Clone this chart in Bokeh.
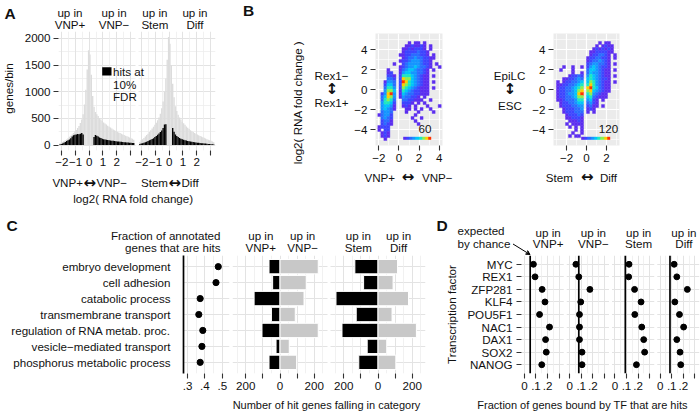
import math
from bokeh.plotting import figure
from bokeh.layouts import row, column
from bokeh.models import (Range1d, FactorRange, LinearAxis, CategoricalAxis, FixedTicker,
                          CategoricalTicker, Grid, Label, Span, BoxAnnotation, ColorBar,
                          LinearColorMapper, Arrow, VeeHead, ColumnDataSource)
from bokeh.transform import transform
from bokeh.embed import file_html
from bokeh.resources import INLINE

MINUS = "\u2212"

# ======================= DATA =======================
# Panel A: histograms of log2 fold change (bins of 0.1 starting at -2.2)
HIST_BIN_START = -2.2
HIST_BIN_WIDTH = 0.1
VNP_ALL = [30, 45, 60, 75, 90, 105, 130, 155, 175, 200,
           225, 255, 285, 320, 360, 415, 480, 580, 760, 1040,
           1420, 1780, 1700, 1320, 920, 720, 620, 580, 545, 510,
           480, 450, 425, 405, 385, 365, 345, 330, 312, 295,
           280, 265, 250, 238, 225, 212, 200, 188, 175, 165,
           155, 142, 130, 118, 100]
VNP_HITS = [10, 20, 30, 45, 60, 75, 90, 105, 130, 160,
            185, 195, 200, 210, 205, 215, 225, 200, 0, 0,
            0, 0, 0, 0, 0, 150, 190, 175, 160, 145,
            132, 120, 112, 105, 100, 96, 92, 88, 84, 80,
            76, 73, 70, 67, 64, 61, 58, 55, 52, 50,
            48, 46, 44, 42, 40]
STEM_ALL = [60, 90, 110, 135, 160, 190, 215, 245, 280, 310,
            345, 380, 420, 465, 520, 590, 690, 820, 1000, 1250,
            1600, 2030, 1900, 1500, 1150, 900, 730, 640, 570, 520,
            480, 440, 410, 380, 350, 325, 300, 280, 262, 245,
            228, 212, 198, 185, 172, 160, 148, 136, 124, 112,
            100, 90, 80, 70, 55]
STEM_HITS = [20, 28, 36, 45, 55, 65, 78, 90, 102, 115,
             130, 150, 170, 195, 220, 245, 275, 320, 385, 390,
             0, 0, 0, 0, 320, 250, 200, 170, 150, 135,
             120, 110, 100, 92, 85, 78, 72, 67, 62, 58,
             54, 50, 46, 43, 40, 37, 34, 31, 28, 25,
             22, 20, 17, 14, 10]
HIST_YTICKS = [0, 500, 1000, 1500, 2000]
FC_TICKS = [-2, -1, 0, 1, 2, 3]
FC_TICK_LABELS = [MINUS + "2", MINUS + "1", "0", "1", "2", ""]

# Panel B: 2-D density (level 1..9 per 0.3 x 0.3 cell; '.' = empty), rows from top (y=4.8) down
HEAT_CELL = 0.3
HEAT_Y_TOP = 4.8
VNP_HEAT_X0 = -2.1
VNP_HEAT_LEFT = [
    ".......", ".......", ".......", ".......", ".......", ".......", ".......",
    ".....1.", ".......", "...1...", "...12..", "...221.", "...332.", "..1443.",
    "..2553.", "..3664.", "..4775.", ".24894.", ".35874.", ".36763.", ".46652.",
    ".45541.", ".45431.", ".3443..", "13442..", ".3432..", ".2331..", ".2321..",
    "1222...", "1.22...", ".121...", ".121...", "..1...."]
VNP_HEAT_RIGHT = [
    "...1.11.1.....", "..1121121.1...", ".11212221.1...", ".122223221....",
    "1122333221.1..", ".12334332211..", "12234443221...", ".2344443221.1.",
    "12344543321..1", "1345543321.1..", "1455443321....", "2666543211.1..",
    "2877543211....", "2986543211.1..", "2876543211....", "2765432111.1..",
    "1654322111....", "1543322111....", "1433221.1.....", ".3322111..1...",
    ".2221.1.1.....", ".121.1...1...1", "..11.1.1..1...", "..1...1....1..",
    ".....1........", "....1..1......", ".....1........", "......1.......",
    "..............", "..............", "..............", "..............",
    ".............."]
STEM_HEAT_X0 = -3.0
STEM_HEAT_LEFT = [
    "..........", "..........", "..........", "..........", "..........",
    "..........", "..........", "..........", "..1..1..1.", ".1...1....",
    ".....1..1.", "....12232.", "..1122343.", "1.1223345.", "112233456.",
    "122334567.", "122334578.", "122344589.", "122334577.", "112333466.",
    ".12233455.", ".12223344.", "..1222334.", "..1222333.", "...122232.",
    "...112221.", "....11121.", "...1.1111.", "....1.1.1.", "......1.1.",
    ".....1..1.", "....1.11..", ".........."]
STEM_HEAT_RIGHT = [
    "....1.11...", "...1.1211..", "..1212121..", ".11222211..", ".1223321.1.",
    "12233221.1.", "12334321...", "23443321.1.", "24543221...", "35543211.1.",
    "35443211...", "46543211.1.", "56543221...", "57643211.1.", "68643211...",
    "89653211...", "78543211...", "6743211....", "5632111....", "4521.1.....",
    "3421.......", "2311.1.....", "121........", "1.1........", "...........",
    "...........", "...........", "...........", "...........", "...........",
    "...........", "...........", "..........."]
VNP_HEAT_MAX_LABEL = "60"
STEM_HEAT_MAX_LABEL = "120"
B_YTICKS = [-4, -2, 0, 2, 4]

# Panel C
GO_TERMS = ["embryo development", "cell adhesion", "catabolic process",
            "transmembrane transport", "regulation of RNA metab. proc.",
            "vesicle" + MINUS + "mediated transport", "phosphorus metabolic process"]
GO_FRACTION = [0.477, 0.464, 0.373, 0.365, 0.388, 0.383, 0.373]
GO_UP_VNP_PLUS = [64, 43, 151, 50, 105, 23, 64]
GO_UP_VNP_MINUS = [223, 153, 140, 89, 223, 54, 97]
GO_UP_STEM = [135, 84, 245, 127, 210, 63, 112]
GO_UP_DIFF = [114, 88, 178, 82, 224, 51, 104]

# Panel D
TFS = ["MYC", "REX1", "ZFP281", "KLF4", "POU5F1", "NAC1", "DAX1", "SOX2", "NANOG"]
TF_VNP_PLUS = [0.078, 0.092, 0.153, 0.178, 0.131, 0.217, 0.183, 0.189, 0.150]
TF_VNP_MINUS = [0.054, 0.079, 0.175, 0.096, 0.085, 0.085, 0.085, 0.107, 0.107]
TF_STEM = [0.122, 0.119, 0.170, 0.226, 0.172, 0.232, 0.249, 0.257, 0.186]
TF_DIFF = [0.121, 0.144, 0.235, 0.127, 0.167, 0.203, 0.144, 0.172, 0.178]
TF_EXPECTED = [0.050, 0.079, 0.090, 0.085]

# ======================= STYLE =======================
FONT = "Liberation Sans"
ARROW_FONT = "DejaVu Sans"
FS = "11.6px"
FS_TITLE = "11px"
ARROW_FS = "15px"
TXT = "#111111"
TICK = "#333333"
GRID_MAJ = "#e3e3e3"
GRID_MIN = "#eeeeee"
HIST_GRAY = "#dcdcdc"
BAR_GRAY = "#c8c8c8"
HEAT_LEVEL_COLORS = ["#5b2df0", "#3d45ff", "#2a6cff", "#1596ff", "#00c6f8",
                     "#1ee8c0", "#8cf050", "#ffcc00", "#ff3300"]
NAMES = ["default", "f1", "f2", "f3"]


def RX(v):
    return int(math.floor(v + 0.5))


RY = RX


def base_fig(L, R, T, B, x_range, y_range, bl=0, br=0, bt=0, bb=0, bg="white"):
    return figure(width=R - L, height=B - T, x_range=x_range, y_range=y_range,
                  x_axis_type=None, y_axis_type=None, toolbar_location=None,
                  output_backend="svg", title=None, frame_align=False,
                  min_border_left=bl, min_border_right=br, min_border_top=bt, min_border_bottom=bb,
                  background_fill_color=bg, border_fill_color="white", outline_line_color=None)


def make_fig(cl, cr, ct, cb, fl, fr, ft, fb, x_range, y_range, bg="white"):
    L, R, T, B = RX(cl), RX(cr), RY(ct), RY(cb)
    FL, FR, FT, FB = RX(fl), RX(fr), RY(ft), RY(fb)
    return base_fig(L, R, T, B, x_range, y_range, FL - L, R - FR, FT - T, B - FB, bg)


def tile(x0, x1, y0, y1, x_range=None):
    """A text-only figure whose frame covers its whole canvas."""
    L, R, T, B = RX(x0), RX(x1), RY(y0), RY(y1)
    p = base_fig(L, R, T, B, x_range if x_range is not None else Range1d(0, 1), Range1d(0, 1))
    return (p, L, B)


def ext_range(main, cl, cr, fl, fr):
    """Range for a tile spanning a figure's whole canvas width, in that figure's data units."""
    L, R, FL, FR = RX(cl), RX(cr), RX(fl), RX(fr)
    ppu = (FR - FL) / (main.end - main.start)
    return Range1d(main.start - (FL - L) / ppu, main.end + (R - FR) / ppu)


def put(t, s, rx=0.0, ry=0.0, xdata=None, align="center", size=FS, bold=False, angle=0.0, font=FONT):
    p, L, B = t
    kw = dict(text=s, text_align=align, text_baseline="middle", text_font=font,
              text_font_size=size, text_color=TXT, angle=angle,
              text_font_style="bold" if bold else "normal",
              y=B - ry, y_units="screen")
    if xdata is not None:
        kw.update(x=xdata, x_units="data")
    else:
        kw.update(x=rx - L, x_units="screen")
    p.add_layout(Label(**kw))


def facet_ranges(lo, hi, n, gap_frac):
    span = hi - lo
    step = span * (1 + gap_frac)
    total = n * span + (n - 1) * span * gap_frac
    return [Range1d(lo - k * step, lo - k * step + total) for k in range(n)], step


def style_axis(ax, tick_len=5, standoff=3):
    ax.axis_line_color = None
    ax.major_tick_out = tick_len
    ax.major_tick_in = 0
    ax.major_tick_line_color = TICK
    ax.major_tick_line_width = 1.1
    ax.minor_tick_line_color = None
    ax.major_label_text_font = FONT
    ax.major_label_text_font_size = FS
    ax.major_label_text_color = TXT
    ax.major_label_standoff = standoff
    ax.axis_label_text_font = FONT
    ax.axis_label_text_font_size = FS
    ax.axis_label_text_font_style = "normal"
    ax.axis_label_text_color = TXT
    return ax


def faceted_xaxis(p, ticks, labels, n, step, tick_len=5, standoff=3):
    pos, lab = [], {}
    for k in range(n):
        for t, l in zip(ticks, labels):
            v = round(t + k * step, 6)
            pos.append(v)
            lab[v] = l
    ax = LinearAxis(ticker=FixedTicker(ticks=pos), major_label_overrides=lab)
    style_axis(ax, tick_len, standoff)
    p.add_layout(ax, "below")


def facet_vgrid(p, major, minor, n):
    for nm in NAMES[:n]:
        p.add_layout(Grid(dimension=0, ticker=FixedTicker(ticks=major, minor_ticks=minor),
                          x_range_name=nm, grid_line_color=GRID_MAJ, grid_line_width=1.0,
                          minor_grid_line_color=GRID_MIN, minor_grid_line_width=0.8))


def facet_gaps(p, lo, hi, n, step):
    for k in range(n - 1):
        p.add_layout(BoxAnnotation(left=hi + k * step, right=lo + (k + 1) * step,
                                   fill_color="white", fill_alpha=1.0, line_alpha=0.0))


# ======================= PANEL A =======================
A_LO, A_HI = -2.25, 3.38
a_rngs, a_step = facet_ranges(A_LO, A_HI, 2, 3 / 77)
A_CL, A_CR = 17, 222
A_FOOT = 171
pA = make_fig(A_CL, A_CR, 31, A_FOOT, 57.5, 214.5, 31, 150, a_rngs[0], Range1d(-101, 2131))
pA.extra_x_ranges = {"f1": a_rngs[1]}
pA.add_layout(Grid(dimension=1, ticker=FixedTicker(ticks=HIST_YTICKS, minor_ticks=[250, 750, 1250, 1750]),
                   grid_line_color=GRID_MAJ, minor_grid_line_color=GRID_MIN, minor_grid_line_width=0.8))
facet_vgrid(pA, FC_TICKS, [-1.5, -0.5, 0.5, 1.5, 2.5], 2)
edges = [round(HIST_BIN_START + i * HIST_BIN_WIDTH, 3) for i in range(len(VNP_ALL) + 1)]
for k, (tot, hit) in enumerate([(VNP_ALL, VNP_HITS), (STEM_ALL, STEM_HITS)]):
    pA.quad(left=edges[:-1], right=edges[1:], bottom=0, top=tot, fill_color=HIST_GRAY,
            line_color=None, x_range_name=NAMES[k])
    pA.quad(left=edges[:-1], right=edges[1:], bottom=0, top=hit, fill_color="black",
            line_color=None, x_range_name=NAMES[k])
facet_gaps(pA, A_LO, A_HI, 2, a_step)
ay = LinearAxis(ticker=FixedTicker(ticks=HIST_YTICKS))
style_axis(ay, 5, 3)
pA.add_layout(ay, "left")
faceted_xaxis(pA, FC_TICKS, FC_TICK_LABELS, 2, a_step, 5, 2)
# legend key + text (inside the frame)
FLa, FBa = RX(57.5), RY(150)
pA.add_layout(BoxAnnotation(left=101.7 - FLa, right=111 - FLa,
                            bottom=FBa - 75, top=FBa - 66.7,
                            left_units="screen", right_units="screen",
                            bottom_units="screen", top_units="screen",
                            fill_color="black", fill_alpha=1.0, line_alpha=0.0))
for txt, yy in [("hits at", 71), ("10%", 83.5), ("FDR", 96)]:
    pA.add_layout(Label(x=112.5 - FLa, y=FBa - yy, x_units="screen", y_units="screen",
                        text=txt, text_align="left", text_baseline="middle", text_font=FONT,
                        text_font_size=FS, text_color=TXT))

tA_left = tile(0, A_CL, 0, 205)
put(tA_left, "A", 9.5, 12.5, size="15.5px", bold=True)
put(tA_left, "genes/bin", 7.5, 88, angle=math.pi / 2)
tA_head = tile(A_CL, A_CR, 0, 31, ext_range(a_rngs[0], A_CL, A_CR, 57.5, 214.5))
for xd, lab in [(-1.41, "VNP+"), (1.81, "VNP" + MINUS), (-1.05 + a_step, "Stem"), (1.88 + a_step, "Diff")]:
    put(tA_head, "up in", ry=11.7, xdata=xd)
    put(tA_head, lab, ry=24, xdata=xd)
tA_foot = tile(A_CL, A_CR, A_FOOT, 205)
put(tA_foot, "VNP+", 82.5, 182, align="right")
put(tA_foot, "\u2194", 89.2, 182, size=ARROW_FS, bold=True, font=ARROW_FONT)
put(tA_foot, "VNP" + MINUS, 96, 182, align="left")
put(tA_foot, "Stem", 167.5, 182, align="right")
put(tA_foot, "\u2194", 174.2, 182, size=ARROW_FS, bold=True, font=ARROW_FONT)
put(tA_foot, "Diff", 181, 182, align="left")
put(tA_foot, "log2( RNA fold change)", 133, 197.8)

# ======================= PANEL B =======================
heat_mapper = LinearColorMapper(palette=HEAT_LEVEL_COLORS, low=0.5, high=9.5)
B_FOOT = 167


def heat_panel(cl, cr, fl, fr, xlo, xhi, xticks, xminor, left_rows, right_rows, x0):
    p = make_fig(cl, cr, 0, B_FOOT, fl, fr, 33.3, 145, Range1d(xlo, xhi), Range1d(-5.6, 5.6), bg="#ebebeb")
    p.add_layout(Grid(dimension=0, ticker=FixedTicker(ticks=xticks, minor_ticks=xminor),
                      grid_line_color="white", grid_line_width=1.2,
                      minor_grid_line_color="white", minor_grid_line_width=0.6))
    p.add_layout(Grid(dimension=1, ticker=FixedTicker(ticks=B_YTICKS, minor_ticks=[-5, -3, -1, 1, 3, 5]),
                      grid_line_color="white", grid_line_width=1.2,
                      minor_grid_line_color="white", minor_grid_line_width=0.6))
    xs, ys, lv = [], [], []
    for r, (a, b) in enumerate(zip(left_rows, right_rows)):
        for c, ch in enumerate(a + b):
            if ch != ".":
                xs.append(x0 + (c + 0.5) * HEAT_CELL)
                ys.append(HEAT_Y_TOP - (r + 0.5) * HEAT_CELL)
                lv.append(int(ch))
    src = ColumnDataSource(dict(x=xs, y=ys, lv=lv))
    p.rect(x="x", y="y", width=HEAT_CELL, height=HEAT_CELL, source=src,
           fill_color=transform("lv", heat_mapper), line_color=transform("lv", heat_mapper),
           line_width=0.4)
    yax = LinearAxis(ticker=FixedTicker(ticks=B_YTICKS),
                     major_label_overrides={t: (MINUS + str(-t) if t < 0 else str(t)) for t in B_YTICKS})
    style_axis(yax, 5, 3)
    p.add_layout(yax, "left")
    xax = LinearAxis(ticker=FixedTicker(ticks=xticks),
                     major_label_overrides={t: (MINUS + str(-t) if t < 0 else str(t)) for t in xticks})
    style_axis(xax, 5, 3)
    p.add_layout(xax, "below")
    return p


def add_colorbar(p, fl, fb, x_left, x_right, y_bot, y_top, label, label_right):
    FL, FB = RX(fl), RY(fb)
    cb = ColorBar(color_mapper=heat_mapper, orientation="horizontal",
                  location=(x_left - FL, FB - y_bot),
                  width=round(x_right - x_left), height=max(3, round(y_bot - y_top)),
                  padding=0, margin=0, title=None, ticker=FixedTicker(ticks=[]),
                  major_label_text_font_size="0px", major_tick_line_color=None,
                  minor_tick_line_color=None, bar_line_color=None, border_line_color=None,
                  background_fill_alpha=0.0)
    p.add_layout(cb)
    p.add_layout(Label(x=label_right - FL, y=FB - 128.3, x_units="screen", y_units="screen",
                       text=label, text_align="right", text_baseline="middle", text_font=FONT,
                       text_font_size=FS, text_color=TXT))


B1_CL, B1_CR = 350, 453
B2_CL, B2_CR = 528, 700
pB1 = heat_panel(B1_CL, B1_CR, 375, 441.7, -2.33, 4.33, [-2, 0, 2, 4], [-1, 1, 3],
                 VNP_HEAT_LEFT, VNP_HEAT_RIGHT, VNP_HEAT_X0)
pB2 = heat_panel(B2_CL, B2_CR, 553.3, 619.3, -3.3, 3.3, [-2, 0, 2], [-3, -1, 1, 3],
                 STEM_HEAT_LEFT, STEM_HEAT_RIGHT, STEM_HEAT_X0)
add_colorbar(pB1, 375, 145, 402.7, 431, 139.3, 136, VNP_HEAT_MAX_LABEL, 431)
add_colorbar(pB2, 553.3, 145, 580.7, 609.3, 139.3, 136, STEM_HEAT_MAX_LABEL, 617.7)

tB1_left = tile(A_CR, B1_CL, 0, 205)
put(tB1_left, "B", 248, 9.5, size="15.5px", bold=True)
put(tB1_left, "log2( RNA fold change )", 297, 102, angle=math.pi / 2)
put(tB1_left, "Rex1" + MINUS, 331, 75)
put(tB1_left, "\u2195", 331.5, 88.3, size=ARROW_FS, bold=True, font=ARROW_FONT)
put(tB1_left, "Rex1+", 331, 101.7)
tB1_foot = tile(B1_CL, B1_CR, B_FOOT, 205)
put(tB1_foot, "VNP+", 379.2, 176.5)
put(tB1_foot, "\u2194", 407.5, 176.5, size=ARROW_FS, bold=True, font=ARROW_FONT)
put(tB1_foot, "VNP" + MINUS, 436.7, 176.5)
tB2_left = tile(B1_CR, B2_CL, 0, 205)
put(tB2_left, "EpiLC", 509, 75)
put(tB2_left, "\u2195", 509.5, 88.3, size=ARROW_FS, bold=True, font=ARROW_FONT)
put(tB2_left, "ESC", 509.5, 104.5)
tB2_foot = tile(B2_CL, B2_CR, B_FOOT, 205)
put(tB2_foot, "Stem", 558.8, 176.5)
put(tB2_foot, "\u2194", 586.7, 176.5, size=ARROW_FS, bold=True, font=ARROW_FONT)
put(tB2_foot, "Diff", 608, 176.5)

# ======================= PANEL C =======================
GO_ORDER = list(reversed(GO_TERMS))
C_CR = 230.5
pC = make_fig(0, C_CR, 255, 412, 182.7, 229, 255, 373, Range1d(0.277, 0.5417),
              FactorRange(factors=GO_ORDER, range_padding=0.2, range_padding_units="absolute"))
pC.add_layout(Grid(dimension=0, ticker=FixedTicker(ticks=[0.3, 0.4, 0.5], minor_ticks=[0.35, 0.45]),
                   grid_line_color=GRID_MAJ, minor_grid_line_color=GRID_MIN, minor_grid_line_width=0.8))
pC.add_layout(Grid(dimension=1, ticker=CategoricalTicker(), grid_line_color=GRID_MAJ))
pC.scatter(x=GO_FRACTION, y=GO_TERMS, size=6.2, color="black")
cy = CategoricalAxis()
style_axis(cy, 0, 13)
cy.axis_line_color = "black"
cy.axis_line_width = 1.7
cy.major_tick_line_color = None
pC.add_layout(cy, "left")
cx = LinearAxis(ticker=FixedTicker(ticks=[0.3, 0.4, 0.5]),
                major_label_overrides={0.3: ".3", 0.4: ".4", 0.5: ".5"})
style_axis(cx, 5, 3)
pC.add_layout(cx, "below")
tC_head = tile(0, C_CR, 205, 255)
put(tC_head, "C", 11.7, 225, size="15.5px", bold=True)
put(tC_head, "Fraction of annotated", 220, 235, align="right")
put(tC_head, "genes that are hits", 220, 247.3, align="right")

C_LO, C_HI = -277, 277
c_rngs, c_step = facet_ranges(C_LO, C_HI, 2, 3 / 95)
CB_CR = 427
pCb = make_fig(C_CR, CB_CR, 255, 397, 232, 425, 255, 373, c_rngs[0],
               FactorRange(factors=GO_ORDER, range_padding=0.2, range_padding_units="absolute"))
pCb.extra_x_ranges = {"f1": c_rngs[1]}
pCb.add_layout(Grid(dimension=1, ticker=CategoricalTicker(), grid_line_color=GRID_MAJ))
facet_vgrid(pCb, [-200, -100, 0, 100, 200], [-250, -150, -50, 50, 150, 250], 2)
for k, (neg, pos) in enumerate([(GO_UP_VNP_PLUS, GO_UP_VNP_MINUS), (GO_UP_STEM, GO_UP_DIFF)]):
    pCb.hbar(y=GO_TERMS, left=[-v for v in neg], right=0, height=0.9, fill_color="black",
             line_color="white", line_width=1, x_range_name=NAMES[k])
    pCb.hbar(y=GO_TERMS, left=0, right=pos, height=0.9, fill_color=BAR_GRAY,
             line_color="white", line_width=1, x_range_name=NAMES[k])
facet_gaps(pCb, C_LO, C_HI, 2, c_step)
faceted_xaxis(pCb, [-200, -100, 0, 100, 200], ["200", "", "0", "", "200"], 2, c_step, 5)
tCb_head = tile(C_CR, CB_CR, 205, 255, ext_range(c_rngs[0], C_CR, CB_CR, 232, 425))
for xd, lab in [(-112, "VNP+"), (132, "VNP" + MINUS), (-115 + c_step, "Stem"), (120 + c_step, "Diff")]:
    put(tCb_head, "up in", ry=235, xdata=xd)
    put(tCb_head, lab, ry=247.3, xdata=xd)
tCb_foot = tile(C_CR, CB_CR, 397, 412)
put(tCb_foot, "Number of hit genes falling in category", 326, 404.5, size=FS_TITLE)

# ======================= PANEL D =======================
TF_ORDER = list(reversed(TFS))
D_LO, D_HI = -0.025, 0.34
d_rngs, d_step = facet_ranges(D_LO, D_HI, 4, 3 / 42.25)
pD = make_fig(CB_CR, 700, 255, 397, 521, 699, 255, 373, d_rngs[0],
              FactorRange(factors=TF_ORDER, range_padding=0.2, range_padding_units="absolute"))
pD.extra_x_ranges = {"f1": d_rngs[1], "f2": d_rngs[2], "f3": d_rngs[3]}
pD.add_layout(Grid(dimension=1, ticker=CategoricalTicker(), grid_line_color=GRID_MAJ))
facet_vgrid(pD, [0, 0.1, 0.2, 0.3], [0.05, 0.15, 0.25], 4)
for k, vals in enumerate([TF_VNP_PLUS, TF_VNP_MINUS, TF_STEM, TF_DIFF]):
    pD.add_layout(Span(location=TF_EXPECTED[k], dimension="height", line_color="black",
                       line_width=1.7, x_range_name=NAMES[k]))
    pD.scatter(x=vals, y=TFS, size=5.9, color="black", x_range_name=NAMES[k])
facet_gaps(pD, D_LO, D_HI, 4, d_step)
faceted_xaxis(pD, [0, 0.1, 0.2, 0.3], ["0", ".1", ".2", ""], 4, d_step, 5)
dy = CategoricalAxis(axis_label="Transcription factor")
style_axis(dy, 5, 4)
dy.axis_label_standoff = 6
pD.add_layout(dy, "left")

tD_head = tile(CB_CR, 700, 205, 255, ext_range(d_rngs[0], CB_CR, 700, 521, 699))
for k, lab in enumerate(["VNP+", "VNP" + MINUS, "Stem", "Diff"]):
    put(tD_head, "up in", ry=231.7, xdata=0.205 + k * d_step)
    put(tD_head, lab, ry=243.3, xdata=0.205 + k * d_step)
put(tD_head, "D", 441.7, 225, size="15.5px", bold=True)
put(tD_head, "expected", 457, 230, align="left")
put(tD_head, "by chance", 457, 243.3, align="left")
pDh, Lh, Bh = tD_head
pDh.add_layout(Arrow(end=VeeHead(size=4, line_color="black", line_width=1, fill_color="black"),
                     x_start=512.5 - Lh, y_start=Bh - 243.5,
                     x_end=529.5 - Lh, y_end=Bh - 254,
                     start_units="screen", end_units="screen",
                     line_color="black", line_width=1))
tD_foot = tile(CB_CR, 700, 397, 412)
put(tD_foot, "Fraction of genes bound by TF that are hits", 582, 404.5, size=FS_TITLE)

top = row(tA_left[0], column(tA_head[0], pA, tA_foot[0]), tB1_left[0], column(pB1, tB1_foot[0]),
          tB2_left[0], column(pB2, tB2_foot[0]))
bottom = row(column(tC_head[0], pC), column(tCb_head[0], pCb, tCb_foot[0]),
             column(tD_head[0], pD, tD_foot[0]))
layout = column(top, bottom)
open("out.html", "w").write(file_html(layout, INLINE))
